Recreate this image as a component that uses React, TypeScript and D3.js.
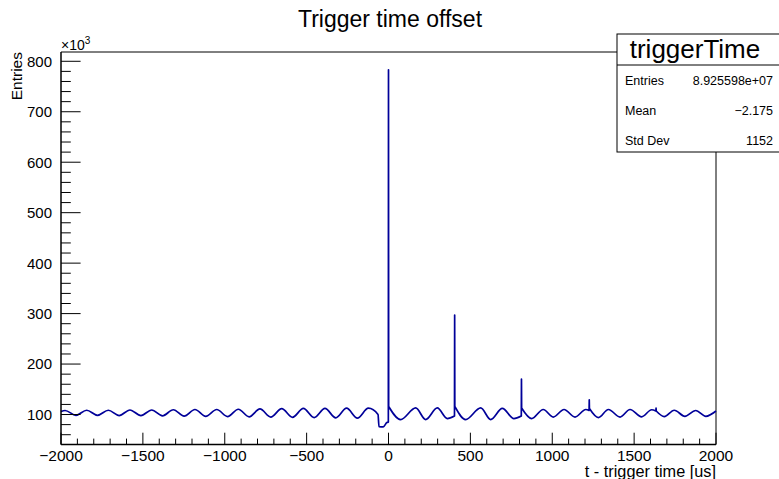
import * as d3 from "d3";
import React from "react";

const W = 779;
const H = 479;
const margin = { left: 61, right: 63, top: 52, bottom: 34.5 };

// histogram outline: time [us], entries [x1000]
const baseT = [
  -2000, -1975, -1909, -1843, -1777, -1711, -1645, -1579, -1512, -1446, -1380,
  -1314, -1248, -1182, -1116, -1049, -983, -917, -851, -785, -719, -652, -586,
  -520, -454, -388, -322, -256, -190, -123, -64, -58, -32, -10, -1,
  1, 74, 166, 227, 298, 359, 403,
  405, 471, 563, 624, 695, 766, 811,
  813, 874, 945, 1006, 1072, 1139, 1205, 1225,
  1227, 1282, 1343, 1414, 1475, 1546, 1607, 1633,
  1635, 1684, 1745, 1810, 1876, 1938, 2000,
];
const baseV = [
  106, 108, 98.5, 108.5, 98.5, 108.5, 98, 109, 98, 109, 97.5,
  109.5, 97, 110, 96.5, 110, 96, 110.5, 95.5, 111, 95, 111.5, 94.5,
  112, 94, 112, 93.5, 112.5, 93, 112.5, 100, 76, 75.5, 84, 85,
  116, 90, 113, 90, 113, 92, 97,
  116, 90, 113, 90, 112, 92, 97,
  113, 92, 110, 95, 110, 95, 110, 108,
  112, 94, 110, 95, 110, 95.5, 109.5, 107,
  107, 96, 108.5, 96.5, 108, 96.5, 107,
];

// narrow spikes
const spikeT = [0, 404, 812, 1226, 1634];
const spikeV = [783, 297, 170, 129, 112.5];

const xMajor = [-2000, -1500, -1000, -500, 0, 500, 1000, 1500, 2000];
const yMajor = [100, 200, 300, 400, 500, 600, 700, 800];

const statsLabels = ["Entries", "Mean", "Std Dev"];
const statsValues = ["8.925598e+07", "\u22122.175", "1152"];

const font = "'Liberation Sans', Arial, Helvetica, sans-serif";

export default function App() {
  const x = d3
    .scaleLinear()
    .domain([-2000, 2000])
    .range([margin.left, W - margin.right]);
  const y = d3
    .scaleLinear()
    .domain([40.6, 818.4])
    .range([H - margin.bottom, margin.top]);

  const base: [number, number][] = baseT.map((t, i) => [t, baseV[i]]);

  const line = d3
    .line<[number, number]>()
    .x((d) => x(d[0]))
    .y((d) => y(d[1]))
    .curve(d3.curveMonotoneX);

  // smooth segments between spikes, spikes as straight vertical strokes
  let d = "";
  let lo = -Infinity;
  spikeT.concat([Infinity]).forEach((st, k) => {
    const seg = base.filter((p) => p[0] > lo && p[0] < st);
    const s = line(seg) ?? "";
    d += d === "" ? s : "L" + s.slice(1);
    if (k < spikeT.length) d += `L${x(st)},${y(spikeV[k])}`;
    lo = st;
  });

  const x0 = x(-2000), x1 = x(2000);
  const y0 = y.range()[0], y1 = y.range()[1];

  const xMinor = d3.range(-2000, 2001, 100).filter((v) => v % 500 !== 0);
  const yMinor = d3.range(60, 819, 20).filter((v) => v % 100 !== 0);
  const fmt = d3.format("d");

  // stats box
  const bx = 617, by = 34, bh = 118, bhead = 31;

  return (
    <svg
      width={W}
      height={H}
      style={{ position: "absolute", left: 0, top: 0, background: "#fff" }}
      fontFamily={font}
    >
      <rect x={0} y={0} width={W} height={H} fill="#fff" />
      <text x={390} y={27} textAnchor="middle" fontSize={23}>
        Trigger time offset
      </text>

      {/* frame */}
      <line x1={x0} x2={x1} y1={y1} y2={y1} stroke="#000" strokeWidth={1} />
      <line x1={x1} x2={x1} y1={y1} y2={y0} stroke="#000" strokeWidth={1} />

      {/* histogram */}
      <path d={d} fill="none" stroke="#000099" strokeWidth={1.7} strokeLinejoin="round" />

      {/* y axis */}
      <line x1={x0} x2={x0} y1={y1} y2={y0} stroke="#000" strokeWidth={1.5} />
      {yMajor.map((v) => (
        <g key={"ym" + v}>
          <line x1={x0} x2={x0 + 19.6} y1={y(v)} y2={y(v)} stroke="#000" />
          <text x={52} y={y(v)} dy="0.36em" textAnchor="end" fontSize={15}>
            {fmt(v)}
          </text>
        </g>
      ))}
      {yMinor.map((v) => (
        <line key={"yn" + v} x1={x0} x2={x0 + 9.8} y1={y(v)} y2={y(v)} stroke="#000" />
      ))}
      <text x={61} y={50} fontSize={14}>
        ×10
        <tspan fontSize={10} dy={-6}>3</tspan>
      </text>
      <text
        transform={`translate(21.5,${y1}) rotate(-90)`}
        textAnchor="end"
        fontSize={15.5}
      >
        Entries
      </text>

      {/* x axis */}
      <line x1={x0} x2={x1} y1={y0} y2={y0} stroke="#000" strokeWidth={1.5} />
      {xMajor.map((v) => (
        <g key={"xm" + v}>
          <line x1={x(v)} x2={x(v)} y1={y0} y2={y0 - 11.8} stroke="#000" />
          <text x={x(v)} y={460.5} textAnchor="middle" fontSize={15.5}>
            {fmt(v)}
          </text>
        </g>
      ))}
      {xMinor.map((v) => (
        <line key={"xn" + v} x1={x(v)} x2={x(v)} y1={y0} y2={y0 - 5.9} stroke="#000" />
      ))}
      <text x={x1} y={477} textAnchor="end" fontSize={16.3}>
        t - trigger time [us]
      </text>

      {/* stats box */}
      <rect x={bx} y={by} width={W - bx + 5} height={bh} fill="#fff" stroke="#000" strokeWidth={1} />
      <line x1={bx} x2={W} y1={by + bhead} y2={by + bhead} stroke="#000" />
      <text x={695} y={58} textAnchor="middle" fontSize={26}>
        triggerTime
      </text>
      {statsLabels.map((s, i) => (
        <g key={s}>
          <text x={625} y={84.5 + i * 30.3} fontSize={12.5}>
            {s}
          </text>
          <text x={773} y={84.5 + i * 30.3} textAnchor="end" fontSize={12.5}>
            {statsValues[i]}
          </text>
        </g>
      ))}
    </svg>
  );
}
